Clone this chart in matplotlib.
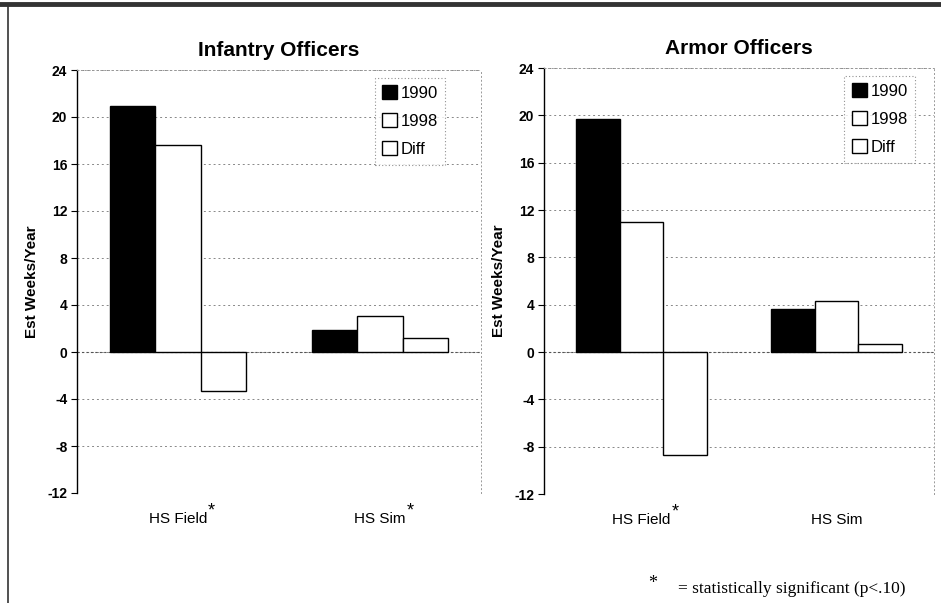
import matplotlib
matplotlib.use("Agg")
import matplotlib.pyplot as plt
from matplotlib.patches import Patch
from matplotlib.lines import Line2D
import numpy as np

plt.rcParams['font.family'] = ['Liberation Sans', 'DejaVu Sans']

categories_inf = ["HS Field", "HS Sim"]
categories_arm = ["HS Field", "HS Sim"]
significant_inf = [True, True]
significant_arm = [True, False]
series_names = ["1990", "1998", "Diff"]
inf_1990 = [20.9, 1.9]
inf_1998 = [17.6, 3.1]
inf_diff = [-3.3, 1.2]
arm_1990 = [19.7, 3.6]
arm_1998 = [11.0, 4.3]
arm_diff = [-8.7, 0.7]
yticks = [24, 20, 16, 12, 8, 4, 0, -4, -8, -12]

fig = plt.figure(figsize=(9.41, 6.03), dpi=100)
W, H = 941, 603

def make_panel(rect, title, cats, sig, s1990, s1998, sdiff, leg_x):
    ax = fig.add_axes(rect)
    x = np.arange(len(cats))
    w = 0.225
    ax.bar(x - w, s1990, w, color='black', edgecolor='black', linewidth=1.0, zorder=3)
    ax.bar(x, s1998, w, color='white', edgecolor='black', linewidth=1.0, zorder=3)
    ax.bar(x + w, sdiff, w, color='white', edgecolor='black', linewidth=1.0, zorder=3)
    ax.set_xlim(-0.5, len(cats) - 0.5)
    ax.set_ylim(-12, 24)
    ax.set_yticks(yticks)
    ax.set_yticklabels([str(t) for t in yticks], fontsize=10, fontweight='bold')
    ax.set_xticks(x)
    ax.set_xticklabels(cats, fontsize=11)
    ax.tick_params(axis='x', length=0, pad=14)
    ax.tick_params(axis='y', length=4, width=0.8, direction='out', pad=3)
    fig.canvas.draw()
    r = fig.canvas.get_renderer()
    for lab, s in zip(ax.get_xticklabels(), sig):
        if s:
            bb = lab.get_window_extent(r)
            fig.text(bb.x1 / W + 0.5 / W, bb.y1 / H + 1 / H, "*", fontsize=13,
                     ha='left', va='center', transform=fig.transFigure)
    for t in yticks:
        ax.axhline(t, color='#888888', linestyle=(0, (2, 3)), linewidth=0.7, zorder=1)
    ax.axhline(0, color='#555555', linestyle=(0, (2, 2)), linewidth=0.8, zorder=2)
    ax.spines['left'].set_linewidth(1.0)
    ax.spines['bottom'].set_visible(False)
    for s in ['top', 'right']:
        ax.spines[s].set_linestyle((0, (1, 3)))
        ax.spines[s].set_color('#999999')
        ax.spines[s].set_linewidth(0.7)
    ax.set_ylabel("Est Weeks/Year", fontsize=11, fontweight='bold', labelpad=6)
    ax.set_title(title, fontsize=15, fontweight='bold', pad=10)
    handles = [Patch(facecolor='black', edgecolor='black'),
               Patch(facecolor='white', edgecolor='black'),
               Patch(facecolor='white', edgecolor='black')]
    leg = ax.legend(handles, series_names, loc='upper right', bbox_to_anchor=(leg_x, 0.99),
                    fontsize=12, frameon=True, fancybox=False, handlelength=0.9,
                    handleheight=0.9, handletextpad=0.2, labelspacing=0.75,
                    borderpad=0.45, borderaxespad=0.2)
    leg.get_frame().set_edgecolor('#777777')
    leg.get_frame().set_linestyle((0, (1, 2)))
    leg.get_frame().set_linewidth(0.8)
    return ax

make_panel([77 / W, 1 - 493 / H, (481 - 77) / W, (493 - 70) / H],
           "Infantry Officers", categories_inf, significant_inf,
           inf_1990, inf_1998, inf_diff, 0.92)
make_panel([544 / W, 1 - 494 / H, (934 - 544) / W, (494 - 68) / H],
           "Armor Officers", categories_arm, significant_arm,
           arm_1990, arm_1998, arm_diff, 0.96)

# frame lines
fig.add_artist(Line2D([0, 1], [1 - 4 / H, 1 - 4 / H], color='#333333', linewidth=3.5))
fig.add_artist(Line2D([8 / W, 8 / W], [0, 1 - 4 / H], color='#333333', linewidth=1.2))

fig.text(653 / W, 1 - 584 / H, "*", fontsize=13, family=['Liberation Serif', 'DejaVu Serif'],
         ha='center', va='center')
fig.text(906 / W, 1 - 589 / H, "= statistically significant (p<.10)",
         fontsize=12.5, family=['Liberation Serif', 'DejaVu Serif'], ha='right', va='center')

fig.savefig("out.png", dpi=100)
